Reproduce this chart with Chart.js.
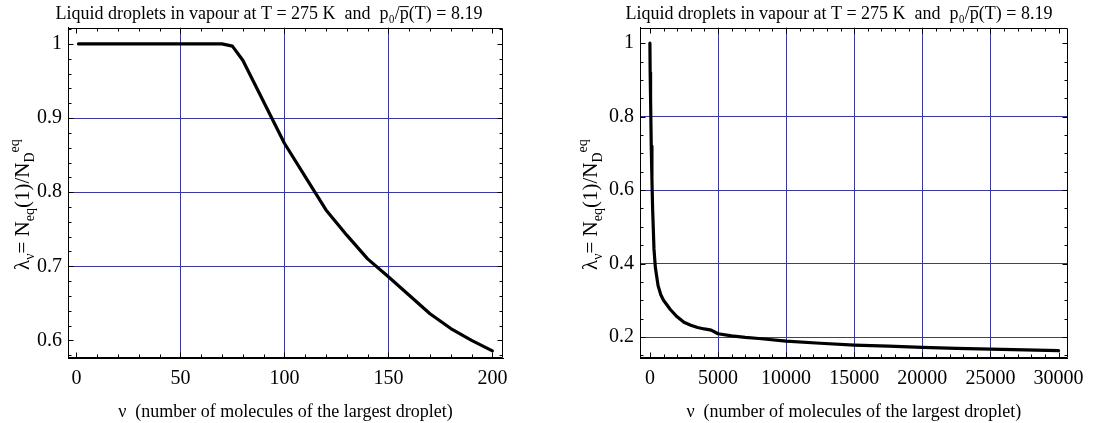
<!DOCTYPE html>
<html><head><meta charset="utf-8">
<script src="https://cdn.jsdelivr.net/npm/chart.js@4.4.1/dist/chart.umd.min.js"></script>
<style>
html,body{margin:0;padding:0;background:#fff;width:1093px;height:423px;overflow:hidden}
#w1{position:absolute;left:0;top:0;width:546px;height:423px}
#w2{position:absolute;left:546px;top:0;width:547px;height:423px}
</style></head><body>
<div id="w1"><canvas id="c1"></canvas></div>
<div id="w2"><canvas id="c2"></canvas></div>
<script>
// ---- text ----
const chartTitle = 'Liquid droplets in vapour at T = 275 K  and  p\u2080/p\u0305(T) = 8.19';
const xAxisTitle = '\u03bd  (number of molecules of the largest droplet)';
const yTitleParts = [
  {t:'\u03bb', k:'n'}, {t:'\u03bd', k:'sub'}, {t:'= N', k:'n'}, {t:'eq', k:'sub'},
  {t:'(1)/N', k:'n'}, {t:'D', k:'sub'}, {t:'eq', k:'sup'}
];

// ---- data: left panel (small droplets) ----
const nuSmall     = [1, 10, 20, 30, 40, 50, 60, 70, 75, 80, 90, 100, 110, 120, 130, 140, 150, 160, 170, 180, 190, 200];
const lambdaSmall = [1, 1, 1, 1, 1, 1, 1, 1, 0.997, 0.978, 0.922, 0.866, 0.821, 0.776, 0.742, 0.710, 0.686, 0.661, 0.636, 0.616, 0.600, 0.586];

// ---- data: right panel (large droplets) ----
const nuLarge     = [1, 20, 50, 100, 150, 200, 300, 400, 600, 800, 1000, 1500, 2000, 2500, 3000, 3500, 4000, 4500, 5000, 6000, 7000, 8000, 10000, 12500, 15000, 17500, 20000, 22500, 25000, 27500, 30000];
const lambdaLarge = [1.0, 0.92, 0.85, 0.72, 0.63, 0.55, 0.44, 0.39, 0.34, 0.315, 0.300, 0.275, 0.255, 0.240, 0.232, 0.226, 0.222, 0.219, 0.209, 0.203, 0.199, 0.196, 0.189, 0.183, 0.178, 0.175, 0.172, 0.169, 0.167, 0.165, 0.163];

// ---- ticks and grid ----
const xTicksSmall = [0, 50, 100, 150, 200];
const yTicksSmall = [0.6, 0.7, 0.8, 0.9, 1];
const xGridSmall  = [50, 100, 150];
const yGridSmall  = [0.7, 0.8, 0.9];
const xTicksLarge = [0, 5000, 10000, 15000, 20000, 25000, 30000];
const yTicksLarge = [0.2, 0.4, 0.6, 0.8, 1];
const xGridLarge  = [5000, 10000, 15000, 20000, 25000];
const yGridLarge  = [0.2, 0.4, 0.6, 0.8];

const SERIF = "'Liberation Serif', 'DejaVu Serif', serif";
const GRID = '#3838a0';

const framePlugin = {
  id: 'frameTicks',
  afterDraw(chart, args, o) {
    const {ctx, chartArea: a, scales: {x, y}} = chart;
    ctx.save();
    ctx.strokeStyle = '#000';
    ctx.lineWidth = 1;
    ctx.beginPath();
    const L = Math.round(a.left) + 0.5, R = Math.round(a.right) - 0.5;
    const T = Math.round(a.top) + 0.5, B = Math.round(a.bottom) - 0.5;
    ctx.rect(L, T, R - L, B - T);
    const seg = (x1, y1, x2, y2) => { ctx.moveTo(x1, y1); ctx.lineTo(x2, y2); };
    const nx0 = Math.ceil(x.min / o.xMinor), nx1 = Math.floor(x.max / o.xMinor);
    for (let i = nx0; i <= nx1; i++) {
      const v = i * o.xMinor;
      const len = (Math.abs(Math.round(v / o.xMajor) * o.xMajor - v) < 1e-9) ? 5 : 3;
      const px = Math.round(x.getPixelForValue(v)) + 0.5;
      seg(px, B, px, B - len); seg(px, T, px, T + len);
    }
    const ny0 = Math.ceil(y.min / o.yMinor - 1e-9), ny1 = Math.floor(y.max / o.yMinor + 1e-9);
    for (let i = ny0; i <= ny1; i++) {
      const v = i * o.yMinor;
      const len = (Math.abs(Math.round(v / o.yMajor) * o.yMajor - v) < 1e-9) ? 5 : 3;
      const py = Math.round(y.getPixelForValue(v)) + 0.5;
      seg(L, py, L + len, py); seg(R, py, R - len, py);
    }
    ctx.stroke();
    ctx.restore();
  }
};

const yTitlePlugin = {
  id: 'yTitleRich',
  afterDraw(chart, args, o) {
    const {ctx, chartArea: a} = chart;
    const main = '21px ' + SERIF, small = '14px ' + SERIF;
    ctx.save();
    ctx.fillStyle = '#000';
    ctx.textBaseline = 'alphabetic';
    let w = 0;
    const widths = yTitleParts.map(p => { ctx.font = p.k === 'n' ? main : small; const m = ctx.measureText(p.t).width; w += m; return m; });
    ctx.translate(o.x, a.top + o.cy);
    ctx.rotate(-Math.PI / 2);
    let cx = -w / 2;
    yTitleParts.forEach((p, i) => {
      ctx.font = p.k === 'n' ? main : small;
      const dy = p.k === 'sub' ? 5 : (p.k === 'sup' ? -10 : 0);
      ctx.fillText(p.t, cx, dy);
      cx += widths[i];
    });
    ctx.restore();
  }
};

function makeChart(id, xs, ys, c) {
  return new Chart(document.getElementById(id), {
    type: 'line',
    data: { datasets: [{
      data: xs.map((v, i) => ({x: v, y: ys[i]})),
      borderColor: '#000', borderWidth: 3.2, pointRadius: 0, tension: 0, fill: false,
      borderCapStyle: 'round', borderJoinStyle: 'round'
    }]},
    options: {
      responsive: true, maintainAspectRatio: false, animation: false,
      layout: { padding: { left: c.padL, right: c.padR, top: 0, bottom: 0 } },
      plugins: {
        legend: { display: false }, tooltip: { enabled: false },
        title: { display: true, text: chartTitle, color: '#000',
                 font: { family: SERIF, size: 18, weight: 'normal' }, padding: { top: 3, bottom: 3 } },
        frameTicks: c.minor,
        yTitleRich: { x: c.yTitleX, cy: 177 }
      },
      scales: {
        x: {
          type: 'linear', min: c.xMin, max: c.xMax,
          afterBuildTicks: s => { s.ticks = c.xTicks.map(v => ({value: v})); },
          afterFit: s => { s.height = 65; },
          ticks: { color: '#000', font: { family: SERIF, size: 20 }, padding: 9, maxRotation: 0, autoSkip: false,
                   callback: v => String(v) },
          grid: { drawTicks: false, lineWidth: 1,
                  color: ctx => (ctx.tick && c.xGrid.includes(ctx.tick.value)) ? GRID : 'rgba(0,0,0,0)' },
          border: { display: true, color: '#000' },
          title: { display: true, text: xAxisTitle, color: '#000', font: { family: SERIF, size: 18 }, padding: { top: 1, bottom: 0 } }
        },
        y: {
          type: 'linear', min: c.yMin, max: c.yMax,
          afterBuildTicks: s => { s.ticks = c.yTicks.map(v => ({value: v})); },
          afterFit: s => { s.width = c.yW; },
          ticks: { color: '#000', font: { family: SERIF, size: 20 }, padding: 6, autoSkip: false,
                   callback: v => String(v) },
          grid: { drawTicks: false, lineWidth: 1,
                  color: ctx => (ctx.tick && c.yGrid.some(g => Math.abs(g - ctx.tick.value) < 1e-9)) ? GRID : 'rgba(0,0,0,0)' },
          border: { display: true, color: '#000' }
        }
      }
    },
    plugins: [framePlugin, yTitlePlugin]
  });
}

makeChart('c1', nuSmall, lambdaSmall, {
  padL: 35, padR: 43, yW: 33, yTitleX: 29,
  xMin: -4.04, xMax: 205.1, yMin: 0.5763, yMax: 1.022,
  xTicks: xTicksSmall, yTicks: yTicksSmall, xGrid: xGridSmall, yGrid: yGridSmall,
  minor: { xMinor: 10, xMajor: 50, yMinor: 0.02, yMajor: 0.1 }
});
makeChart('c2', nuLarge, lambdaLarge, {
  padL: 60, padR: 21, yW: 34, yTitleX: 51,
  xMin: -726, xMax: 30660, yMin: 0.1429, yMax: 1.0425,
  xTicks: xTicksLarge, yTicks: yTicksLarge, xGrid: xGridLarge, yGrid: yGridLarge,
  minor: { xMinor: 1000, xMajor: 5000, yMinor: 0.05, yMajor: 0.2 }
});
</script>
</body></html>
